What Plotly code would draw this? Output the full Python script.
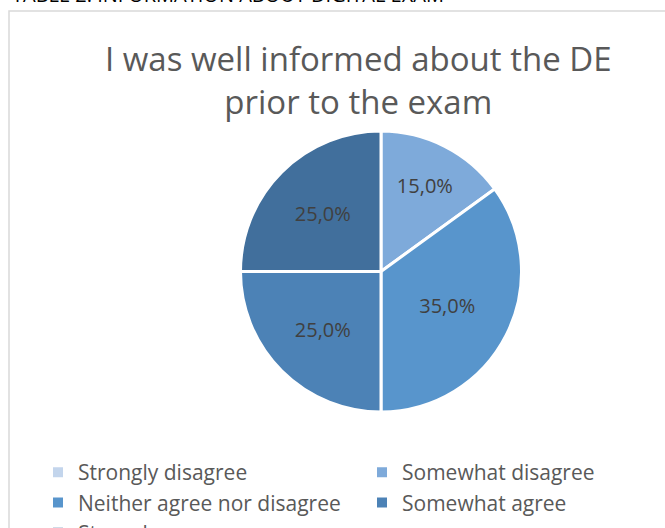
import plotly.graph_objects as go

# Survey responses: share of respondents per answer
categories = [
    "Strongly disagree",
    "Somewhat disagree",
    "Neither agree nor disagree",
    "Somewhat agree",
    "Strongly agree",
]
shares = [0.0, 15.0, 35.0, 25.0, 25.0]
slice_colors = ["#C3D5EC", "#7EAADA", "#5895CC", "#4C82B6", "#416F9C"]

chart_title = "I was well informed about the DE<br>prior to the exam"
table_caption = "TABLE 2. INFORMATION ABOUT DIGITAL EXAM"

W, H = 665, 528
font_family = "Open Sans, Noto Sans, Liberation Sans, sans-serif"

# hide the label of empty slices
label_template = ["" if v == 0 else "%{percent:.1%}" for v in shares]

fig = go.Figure(
    go.Pie(
        labels=categories,
        values=shares,
        sort=False,
        direction="clockwise",
        rotation=0,
        marker=dict(colors=slice_colors, line=dict(color="white", width=3)),
        texttemplate=label_template,
        textposition="inside",
        insidetextorientation="horizontal",
        textfont=dict(family=font_family, size=20, color="#404040"),
        hoverinfo="label+percent",
        domain=dict(x=[240 / W, 522 / W], y=[(H - 412) / H, (H - 131) / H]),
        showlegend=True,
    )
)

fig.update_layout(
    width=W,
    height=H,
    margin=dict(l=0, r=0, t=0, b=0, autoexpand=False),
    paper_bgcolor="white",
    plot_bgcolor="white",
    separators=",.",
    font=dict(family=font_family, color="#595959"),
    legend=dict(
        orientation="h",
        xref="container",
        yref="container",
        x=38 / W,
        xanchor="left",
        y=(H - 452) / H,
        yanchor="top",
        entrywidth=279,
        entrywidthmode="pixels",
        font=dict(size=21, color="#595959"),
        itemsizing="constant",
        traceorder="normal",
    ),
    shapes=[
        # chart frame
        dict(
            type="rect",
            xref="paper",
            yref="paper",
            x0=9 / W,
            x1=1.05,
            y0=-0.05,
            y1=(H - 11) / H,
            line=dict(color="#D9D9D9", width=1.5),
            fillcolor="rgba(0,0,0,0)",
            layer="below",
        )
    ],
    annotations=[
        dict(
            text=chart_title,
            xref="paper",
            yref="paper",
            x=358 / W,
            y=(H - 34) / H,
            xanchor="center",
            yanchor="top",
            showarrow=False,
            font=dict(family=font_family, size=33, color="#595959"),
        ),
        dict(
            text=table_caption,
            xref="paper",
            yref="paper",
            x=10 / W,
            y=(H - 10) / H,
            xanchor="left",
            yanchor="bottom",
            showarrow=False,
            font=dict(family=font_family, size=20, color="#000000"),
        ),
    ],
)

fig.write_html("out.html")
